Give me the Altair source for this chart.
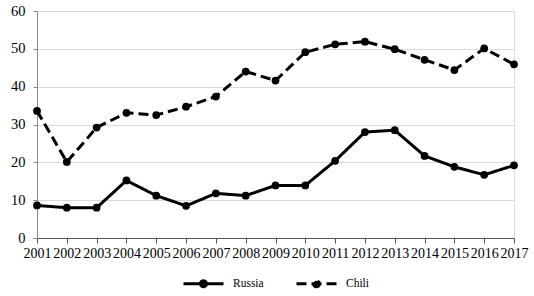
import altair as alt
import pandas as pd

years = list(range(2001, 2018))
russia = [8.6, 8.0, 8.0, 15.2, 11.2, 8.5, 11.8, 11.2, 13.9, 13.9, 20.4, 28.0, 28.5, 21.7, 18.8, 16.7, 19.2]
chili = [33.6, 20.1, 29.2, 33.1, 32.5, 34.7, 37.4, 44.0, 41.6, 49.1, 51.2, 51.9, 49.9, 47.1, 44.4, 50.1, 45.9]
series = ["Russia", "Chili"]

rows = []
for y, r, c in zip(years, russia, chili):
    rows.append({"year": y, "value": r, "country": "Russia"})
    rows.append({"year": y, "value": c, "country": "Chili"})
df = pd.DataFrame(rows)

FONT = "'Liberation Serif', 'Times New Roman', serif"
sym = "M-1,0H1M0.15,0A0.15,0.15 0 1,1 -0.15,0A0.15,0.15 0 1,1 0.15,0Z"

x = alt.X("year:Q", scale=alt.Scale(domain=[2001, 2017], nice=False, zero=False),
          axis=alt.Axis(values=years, format="d", title=None, grid=False,
                        labelFont=FONT, labelFontSize=14, labelColor="black",
                        domainColor="#555", tickColor="#555", tickSize=5,
                        labelPadding=3, labelFlush=False))
y = alt.Y("value:Q", scale=alt.Scale(domain=[0, 60], nice=False),
          axis=alt.Axis(values=[0, 10, 20, 30, 40, 50, 60], title=None,
                        labelFont=FONT, labelFontSize=14.5, labelColor="black",
                        gridColor="#d9d9d9", domainColor="#888", tickColor="#888",
                        tickSize=4, labelPadding=8))
dash = alt.StrokeDash("country:N", scale=alt.Scale(domain=series, range=[[1, 0], [10, 5]]),
                      legend=alt.Legend(title=None, orient="none", direction="horizontal",
                                        legendX=145, legendY=251,
                                        symbolType=sym, symbolSize=1600,
                                        symbolStrokeWidth=3, symbolStrokeColor="black",
                                        symbolFillColor="black",
                                        labelFont=FONT, labelFontSize=11.5, labelColor="black",
                                        labelFontWeight="normal",
                                        columnPadding=26, labelOffset=8))

lines = alt.Chart(df).mark_line(color="black", strokeWidth=3).encode(x=x, y=y, strokeDash=dash, detail="country:N")
pts = alt.Chart(df).mark_point(filled=True, color="black", size=60, opacity=1).encode(
    x=x, y=y, detail="country:N")

chart = alt.layer(lines, pts).properties(
    width=477, height=227,
    autosize=alt.AutoSizeParams(type="none"),
    padding={"left": 37, "top": 11, "right": 20, "bottom": 58},
).configure_view(stroke=None).configure(background="white", font=FONT).configure_legend(
    labelFont=FONT, labelFontWeight="normal")

chart.save("out.html", embed_options={"renderer": "svg", "actions": False})
